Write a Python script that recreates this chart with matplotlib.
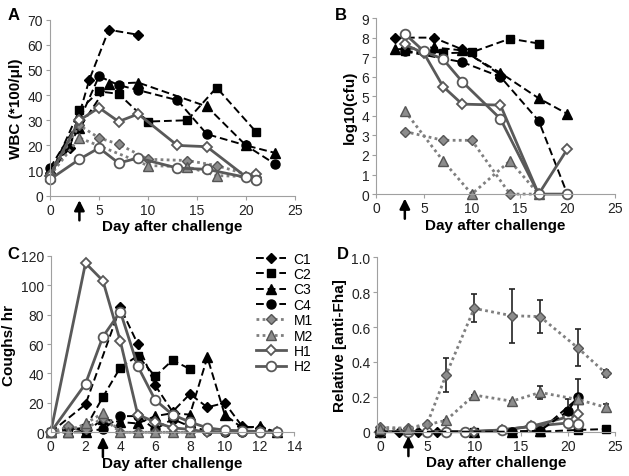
import matplotlib
matplotlib.use('Agg')
import matplotlib.pyplot as plt
from matplotlib.lines import Line2D

plt.rcParams['font.family'] = ['Liberation Sans', 'DejaVu Sans']

series = ['C1', 'C2', 'C3', 'C4', 'M1', 'M2', 'H1', 'H2']

# panel A: white blood cell counts
wbc = {
    'C1': ([0, 2, 4, 6, 9], [9, 19, 46, 66, 64]),
    'C2': ([0, 3, 5, 7, 10, 14, 17, 21], [8, 34, 41.5, 40.5, 29.5, 30, 43, 25.5]),
    'C3': ([0, 3, 6, 9, 16, 20, 23], [8, 27, 44.5, 45, 35.5, 20, 17]),
    'C4': ([0, 3, 5, 7, 9, 13, 16, 20, 23], [11, 30, 47.5, 44, 42, 38, 24.5, 20, 12.5]),
    'M1': ([0, 3, 5, 7, 10, 14, 17, 21], [8.5, 28, 23, 20.5, 14.5, 14, 12, 7.5]),
    'M2': ([0, 3, 10, 14, 17, 21], [8, 23, 12, 11.5, 8, 7.5]),
    'H1': ([0, 3, 5, 7, 9, 13, 16, 20, 21], [8, 30, 35, 29.5, 32.5, 20, 19.5, 7.5, 8.5]),
    'H2': ([0, 3, 5, 7, 9, 13, 16, 20, 21], [6.5, 14.5, 19, 13, 15, 11, 10.5, 7.3, 6.3]),
}

# panel B: nasopharyngeal colonisation
cfu = {
    'C1': ([2, 6, 9, 13], [8.0, 8.0, 7.4, 6.1]),
    'C2': ([3, 7, 10, 14, 17], [7.3, 7.2, 7.25, 7.95, 7.7]),
    'C3': ([2, 6, 9, 13, 17, 20], [7.4, 7.5, 7.35, 6.2, 4.9, 4.1]),
    'C4': ([3, 9, 13, 17, 20], [7.3, 6.75, 6.0, 3.75, 0]),
    'M1': ([3, 7, 10, 14, 17], [3.2, 2.75, 2.75, 0, 0]),
    'M2': ([3, 7, 10, 14, 17], [4.25, 1.7, 0, 1.7, 0]),
    'H1': ([3, 5, 7, 9, 13, 17, 20], [7.65, 7.2, 5.5, 4.6, 4.55, 0, 2.3]),
    'H2': ([3, 5, 7, 9, 13, 17, 20], [8.2, 7.3, 6.9, 5.75, 3.85, 0, 0]),
}

# panel C: coughs per hour
coughs = {
    'C1': ([0, 2, 4, 5, 6, 7, 8, 9, 10, 11, 12, 13], [0, 19, 85, 60, 32, 14, 26, 17, 20, 4, 3, 0]),
    'C2': ([0, 1, 2, 3, 4, 5, 6, 7, 8], [0, 2, 3, 24, 44, 52, 38, 49, 43]),
    'C3': ([0, 1, 2, 3, 4, 5, 6, 7, 8, 9, 10, 11, 12, 13], [0, 0, 0, 9, 7, 6, 11, 13, 12, 51, 12, 3, 4, 0]),
    'C4': ([0, 1, 2, 3, 4, 5, 6, 7, 8, 9, 10, 11, 12], [0, 3, 1, 2, 11, 11, 2, 9, 4, 1, 0, 0, 0]),
    'M1': ([0, 1, 2, 3, 4, 5, 6, 7, 8], [0, 4, 2, 10, 0, 0, 0, 0, 0]),
    'M2': ([0, 1, 2, 3, 4, 5, 6, 7, 8], [0, 0, 6, 13, 0, 0, 0, 0, 0]),
    'H1': ([0, 2, 3, 4, 5, 6, 7, 8, 9, 10, 11, 12, 13], [0, 115, 103, 62, 12, 7, 3, 2, 0, 0, 0, 0, 0]),
    'H2': ([0, 2, 3, 4, 5, 6, 7, 8, 9, 10, 11, 12, 13], [0, 33, 65, 82, 45, 22, 12, 7, 3, 1.5, 1, 0.5, 0]),
}

# panel D: relative anti-Fha antibody, with error bars
fha = {
    'C1': ([0, 2, 4, 6], [0, 0, 0, 0]),
    'C2': ([0, 10, 14, 17, 21, 24], [0, 0, 0, 0, 0.01, 0.015]),
    'C3': ([0, 10, 14, 17, 21], [0, 0, 0, 0.005, 0.19]),
    'C4': ([0, 14, 17, 20, 21], [0, 0, 0.005, 0.12, 0.2]),
    'M1': ([0, 3, 5, 7, 10, 14, 17, 21, 24], [0.025, 0.02, 0.045, 0.325, 0.707, 0.665, 0.66, 0.482, 0.335]),
    'M2': ([0, 3, 7, 10, 14, 17, 21, 24], [0.015, 0.015, 0.065, 0.21, 0.175, 0.225, 0.185, 0.14]),
    'H1': ([0, 3, 5, 7, 10, 13, 16, 20, 21], [0, 0, 0, 0, 0, 0.01, 0.03, 0.085, 0.1]),
    'H2': ([0, 3, 5, 7, 9, 13, 16, 20, 21], [0, 0, 0, 0, 0, 0.01, 0.03, 0.05, 0.045]),
}
fha_err = {
    'C4': [0, 0, 0, 0.07, 0.1],
    'M1': [0, 0, 0, 0.095, 0.08, 0.155, 0.095, 0.105, 0.02],
    'M2': [0, 0, 0, 0, 0, 0.035, 0, 0.02],
}

dash = (0, (4, 2))
dot = (0, (1, 1.2))
styles = {
    'C1': dict(color='black', ls=dash, lw=1.4, marker='D', ms=5, mfc='black', mec='black'),
    'C2': dict(color='black', ls=dash, lw=1.4, marker='s', ms=6, mfc='black', mec='black'),
    'C3': dict(color='black', ls=dash, lw=1.4, marker='^', ms=6.5, mfc='black', mec='black'),
    'C4': dict(color='black', ls=dash, lw=1.4, marker='o', ms=6.5, mfc='black', mec='black'),
    'M1': dict(color='#7f7f7f', ls=dot, lw=2, marker='D', ms=5, mfc='#8c8c8c', mec='#555555'),
    'M2': dict(color='#7f7f7f', ls=dot, lw=2, marker='^', ms=6.5, mfc='#8c8c8c', mec='#555555'),
    'H1': dict(color='#595959', ls='-', lw=2, marker='D', ms=5, mfc='white', mec='#595959', mew=1.3),
    'H2': dict(color='#595959', ls='-', lw=2, marker='o', ms=7, mfc='white', mec='#595959', mew=1.3),
}

fig = plt.figure(figsize=(6.29, 4.77), dpi=100)


def style_axes(ax, xlim, ylim, xticks, yticks, ylabel, ylabels=None):
    ax.set_xlim(*xlim)
    ax.set_ylim(*ylim)
    ax.set_xticks(xticks)
    ax.set_yticks(yticks)
    if ylabels is not None:
        ax.set_yticklabels(ylabels)
    for s in ['top', 'right']:
        ax.spines[s].set_visible(False)
    ax.spines['left'].set_color('#a0a0a0')
    ax.spines['bottom'].set_color('#a0a0a0')
    ax.tick_params(axis='both', direction='out', length=3, color='#a0a0a0',
                   labelsize=10, labelcolor='#222222', pad=2)
    ax.set_xlabel('Day after challenge', fontsize=11, fontweight='bold', labelpad=2)
    ax.set_ylabel(ylabel, fontsize=11, fontweight='bold', labelpad=3)
    # inoculation arrow at day 3
    ax.annotate('', xy=(3, -0.025), xytext=(3, -0.14),
                xycoords=('data', 'axes fraction'), textcoords=('data', 'axes fraction'),
                arrowprops=dict(arrowstyle='-|>,head_width=0.3,head_length=0.6',
                                color='black', lw=1.8, shrinkA=0, shrinkB=0),
                annotation_clip=False)


def draw(ax, data, errs=None):
    for name in series:
        x, y = data[name]
        if errs is not None and name in errs:
            ax.errorbar(x, y, yerr=errs[name], ecolor='#222222', elinewidth=1.2,
                        capsize=2.5, capthick=1.2, clip_on=False, **styles[name])
        else:
            ax.plot(x, y, clip_on=False, **styles[name])


# A
axA = fig.add_axes([0.0795, 0.5876, 0.3895, 0.369])
draw(axA, wbc)
style_axes(axA, (0, 25), (0, 70), range(0, 26, 5), range(0, 71, 10), 'WBC (*100/μl)')

# B
axB = fig.add_axes([0.598, 0.591, 0.380, 0.369])
draw(axB, cfu)
style_axes(axB, (0, 25), (0, 9), range(0, 26, 5), range(0, 10), 'log10(cfu)')

# C
axC = fig.add_axes([0.0806, 0.0916, 0.3874, 0.3702])
draw(axC, coughs)
style_axes(axC, (0, 14), (0, 120), range(0, 15, 2), range(0, 121, 20), 'Coughs/ hr')

# D
axD = fig.add_axes([0.600, 0.0929, 0.378, 0.3656])
draw(axD, fha, fha_err)
style_axes(axD, (-0.3, 25), (0, 1.0), range(0, 26, 5), [0, 0.2, 0.4, 0.6, 0.8, 1.0],
           'Relative [anti-Fha]', ['0', '0.2', '0.4', '0.6', '0.8', '1.0'])

# legend next to panel C
handles = [Line2D([], [], **styles[n]) for n in series]
fig.legend(handles, series, loc='upper left', bbox_to_anchor=(0.398, 0.482),
           frameon=False, fontsize=10, handlelength=2.2, handletextpad=0.5,
           labelspacing=0.1, borderaxespad=0)

for letter, x, y in [('A', 0.012, 0.968), ('B', 0.533, 0.968),
                     ('C', 0.012, 0.466), ('D', 0.535, 0.466)]:
    fig.text(x, y, letter, fontsize=12, fontweight='bold', va='center')

fig.savefig('out.png', dpi=100)
